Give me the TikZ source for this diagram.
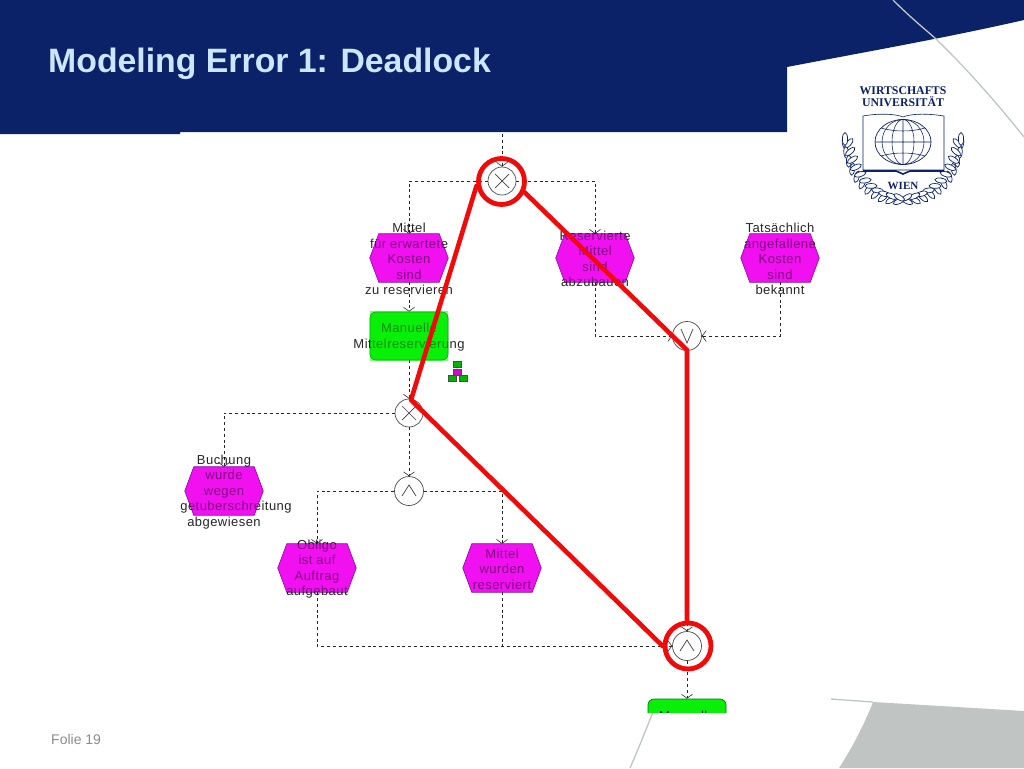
\documentclass[tikz,border=0pt]{standalone}
\usepackage{fontspec}
\setmainfont{Liberation Sans}
\newfontfamily\logofont{Liberation Serif}
\newfontfamily\epcfont[LetterSpace=3.5]{Liberation Sans}
\usetikzlibrary{arrows.meta,calc}
\definecolor{navy}{HTML}{0B2269}
\definecolor{titleblue}{HTML}{CDE6FF}
\definecolor{slidegrey}{HTML}{C0C5C4}
\definecolor{evmag}{HTML}{F010F0}
\definecolor{fngreen}{HTML}{08F008}
\definecolor{edgepurple}{HTML}{6A1090}
\definecolor{wured}{HTML}{F00A0A}
\tikzset{
  x=1pt,y=-1pt,
  evbox/.style={minimum width=78pt,minimum height=48pt,inner sep=0pt},
  evfill/.style={fill=evmag,draw=edgepurple,line width=.7pt},
  evveil/.style={fill=evmag,fill opacity=.45},
  lbl/.style={inner sep=0pt,align=center,text=black,font=\epcfont\fontsize{13}{15.4}\selectfont,text opacity=.85},
  fnbox/.style={draw=green!45!black,fill=fngreen,rounded corners=6pt,minimum width=78pt,minimum height=48pt,inner sep=0pt,line width=.7pt},
  gate/.style={circle,draw=black!70,fill=white,minimum size=#1,inner sep=0pt,line width=.7pt},
  gate/.default=29pt,
  flow/.style={dash pattern=on 3pt off 2.8pt,line width=.75pt,black!85},
  tipflow/.style={flow,-{Straight Barb[length=4pt,width=11pt,line width=.6pt]}},
  sym/.style={black!75,line width=.7pt},
  redline/.style={wured,line width=4.6pt,line cap=round,line join=round},
  redring/.style={circle,draw=wured,line width=4.8pt,minimum size=#1,inner sep=0pt,fill=none},
  deco/.style={slidegrey,line width=1.3pt},
  leaf/.style={draw=navy,fill=white,line width=.7pt},
  orgg/.style={draw=black!70,fill=green!70!black,line width=.4pt,minimum width=8pt,minimum height=6pt,inner sep=0pt},
  orgm/.style={draw=black!70,fill=evmag!85!black,line width=.4pt,minimum width=8pt,minimum height=6pt,inner sep=0pt},
}
% hexagon outline around a named event box
\newcommand{\hexpath}[2]{[#2] ($(#1.west)$) -- ($(#1.north west)+(9,0)$) -- ($(#1.north east)+(-9,0)$) -- ($(#1.east)$) -- ($(#1.south east)+(-9,0)$) -- ($(#1.south west)+(9,0)$) -- cycle}
\newcommand{\evlabel}[3]{\node[lbl] (#1t) at ($(#1)+(0,#2)$) {#3}; \path \hexpath{#1}{evveil};}
\begin{document}
\begin{tikzpicture}
\useasboundingbox (0,0) rectangle (1024,768);
\fill[white] (0,0) rectangle (1024,768);
% slide chrome
\fill[navy] (0,0) -- (1024,0) -- (1024,20) .. controls (945,38) and (865,52) .. (787,67) -- (787,132) -- (180,132) -- (180,134) -- (0,134) -- cycle;
\draw[deco] (893,0) .. controls (915,22) and (930,33) .. (938,41) .. controls (970,72) and (1000,107) .. (1024,137);
\fill[slidegrey] (873,702) -- (1024,711) -- (1024,768) -- (839,768) .. controls (852,748) and (864,725) .. (873,702) -- cycle;
\draw[deco] (831,699) -- (873,702);
\draw[deco] (653,712) .. controls (645,732) and (638,750) .. (630,768);
\node[anchor=base west,inner sep=0pt,text=titleblue,font=\fontsize{33.8}{36}\selectfont\bfseries] (title) at (48,72.5) {Modeling Error 1: Deadlock};
\node[anchor=base west,inner sep=0pt,text=black!45,font=\fontsize{14}{15}\selectfont] (folie) at (51,744) {Folie 19};
% logo
\foreach \a in {6,14,...,86}{
  \draw[leaf] ({903+57*cos(\a)+1.5*cos(\a)},{137+63*sin(\a)+1.5*sin(\a)}) ellipse [x radius=6,y radius=2.4,rotate={\a+70}];
  \draw[leaf] ({903+57*cos(\a)-2.5*cos(\a)},{137+63*sin(\a)-2.5*sin(\a)}) ellipse [x radius=6,y radius=2.4,rotate={\a+125}];
  \draw[leaf] ({903-57*cos(\a)-1.5*cos(\a)},{137+63*sin(\a)+1.5*sin(\a)}) ellipse [x radius=6,y radius=2.4,rotate={-\a-70}];
  \draw[leaf] ({903-57*cos(\a)+2.5*cos(\a)},{137+63*sin(\a)-2.5*sin(\a)}) ellipse [x radius=6,y radius=2.4,rotate={-\a-125}];
}
\draw[leaf] (845,139) ellipse [x radius=2.6,y radius=6.5];
\draw[leaf] (961,139) ellipse [x radius=2.6,y radius=6.5];
\node[inner sep=0pt,text=navy,font=\logofont\fontsize{11.8}{11.8}\selectfont\bfseries,align=center] (logoa) at (903,97) {WIRTSCHAFTS\\UNIVERSITÄT};
\node[inner sep=1pt,fill=white,text=navy,font=\logofont\fontsize{11}{11}\selectfont\bfseries] (logob) at (903,186) {WIEN};
\draw[navy,line width=.6pt] (863,116) -- (863,170) -- (944,170) -- (944,116) .. controls (925,113) and (910,114) .. (903,117) .. controls (896,114) and (880,113) .. (863,116) -- cycle;
\draw[navy,line width=1.6pt] (863,171) -- (896,171) -- (903,174) -- (910,171) -- (944,171);
\draw[navy,line width=.7pt] (903,142) ellipse [x radius=28,y radius=22.5];
\draw[navy,line width=.55pt] (903,142) ellipse [x radius=11,y radius=22.5] (903,142) ellipse [x radius=21,y radius=22.5] (903,119.5) -- (903,164.5) (875,142) -- (931,142);
\draw[navy,line width=.55pt] (881,128) .. controls (895,132) and (911,132) .. (925,128) (881,156) .. controls (895,152) and (911,152) .. (925,156);
% EPC nodes
\coordinate (entry) at (502,134);
\node[gate=28pt] (xa) at (502,181) {};
\node[evbox] (ea) at (409,258) {};
\node[evbox] (eb) at (595,258) {};
\node[evbox] (ec) at (780,258) {};
\node[fnbox] (fa) at (409,336) {};
\node[gate=29pt] (ora) at (687,336) {};
\node[gate=28pt] (xb) at (409,413) {};
\node[evbox] (ed) at (224,491) {};
\node[gate=29pt] (anda) at (409,491) {};
\node[evbox] (ee) at (317,568) {};
\node[evbox] (ef) at (502,568) {};
\node[gate=29pt] (andb) at (687,646) {};
\begin{scope}
\clip (600,690) rectangle (760,712);
\node[fnbox] (fb) at (687,723) {};
\node[lbl] (fbt) at (687,716) {Manuelle};
\end{scope}
\coordinate (junction) at (ef.south |- andb.west);
% connectors
\draw[tipflow] (entry) -- (xa.north);
\draw[tipflow] (xa.west) -| (ea.north);
\draw[tipflow] (xa.east) -| (eb.north);
\draw[tipflow] (ea.south) -- (fa.north);
\draw[tipflow] (fa.south) -- (xb.north);
\draw[tipflow] (eb.south) |- (ora.west);
\draw[tipflow] (ec.south) |- (ora.east);
\draw[tipflow] (ora.south) -- (andb.north);
\draw[tipflow] (xb.west) -| (ed.north);
\draw[tipflow] (xb.south) -- (anda.north);
\draw[tipflow] (anda.west) -| (ee.north);
\draw[tipflow] (anda.east) -| (ef.north);
\draw[tipflow] (ee.south) |- (andb.west);
\draw[flow] (ef.south) -- (junction);
\draw[tipflow] (andb.south) -- (fb.north);
% hexagons
\foreach \n in {ea,eb,ec,ed,ee,ef}{\path \hexpath{\n}{evfill};}
% gate symbols
\draw[sym] ($(xa)+(-7,-7)$) -- ($(xa)+(7,7)$) ($(xa)+(7,-7)$) -- ($(xa)+(-7,7)$);
\draw[sym] ($(xb)+(-7,-7)$) -- ($(xb)+(7,7)$) ($(xb)+(7,-7)$) -- ($(xb)+(-7,7)$);
\draw[sym] ($(ora)+(-6,-7)$) -- ($(ora)+(0,7)$) -- ($(ora)+(6,-7)$);
\draw[sym] ($(anda)+(-7,5)$) -- ($(anda)+(0,-6)$) -- ($(anda)+(7,5)$);
\draw[sym] ($(andb)+(-7,5)$) -- ($(andb)+(0,-6)$) -- ($(andb)+(7,5)$);
% labels
\evlabel{ea}{1}{Mittel\\für erwartete\\Kosten\\sind\\zu reservieren}
\evlabel{eb}{1}{Reservierte\\Mittel\\sind\\abzubauen}
\evlabel{ec}{1}{Tatsächlich\\angefallene\\Kosten\\sind\\bekannt}
\evlabel{ed}{1}{Buchung\\wurde\\wegen\\\hbox{\kern 24pt getuberschreitung}\\abgewiesen}
\evlabel{ee}{1}{Obligo\\ist auf\\Auftrag\\aufgebaut}
\evlabel{ef}{1}{Mittel\\wurden\\reserviert}
\node[lbl] (fat) at (409,337) {Manuelle\\Mittelreservierung};
\fill[fngreen,fill opacity=.5] ([xshift=.5pt,yshift=-.5pt]fa.south west) rectangle ([xshift=-.5pt,yshift=.5pt]fa.north east);
% org icon
\node[orgg] (ia) at (457,364) {};
\node[orgm] (ib) at (457,372) {};
\node[orgg] (ic) at (452,378) {};
\node[orgg] (id) at (463,378) {};
\draw[black,line width=.4pt] (ia) -- (ib) (ib) -- (ic) (ib) -- (id);
% red overlay
\node[redring=46pt] (ringa) at (501.5,181.5) {};
\node[redring=46pt] (ringb) at (688,646) {};
\coordinate (bend) at (411,400);
\coordinate (orbend) at (687,350);
\draw[redline] (ringa.190) -- (bend) -- (ringb.west);
\draw[redline] (ringa.-25) -- (orbend) -- (orbend |- ringb.north);
\end{tikzpicture}
\end{document}
